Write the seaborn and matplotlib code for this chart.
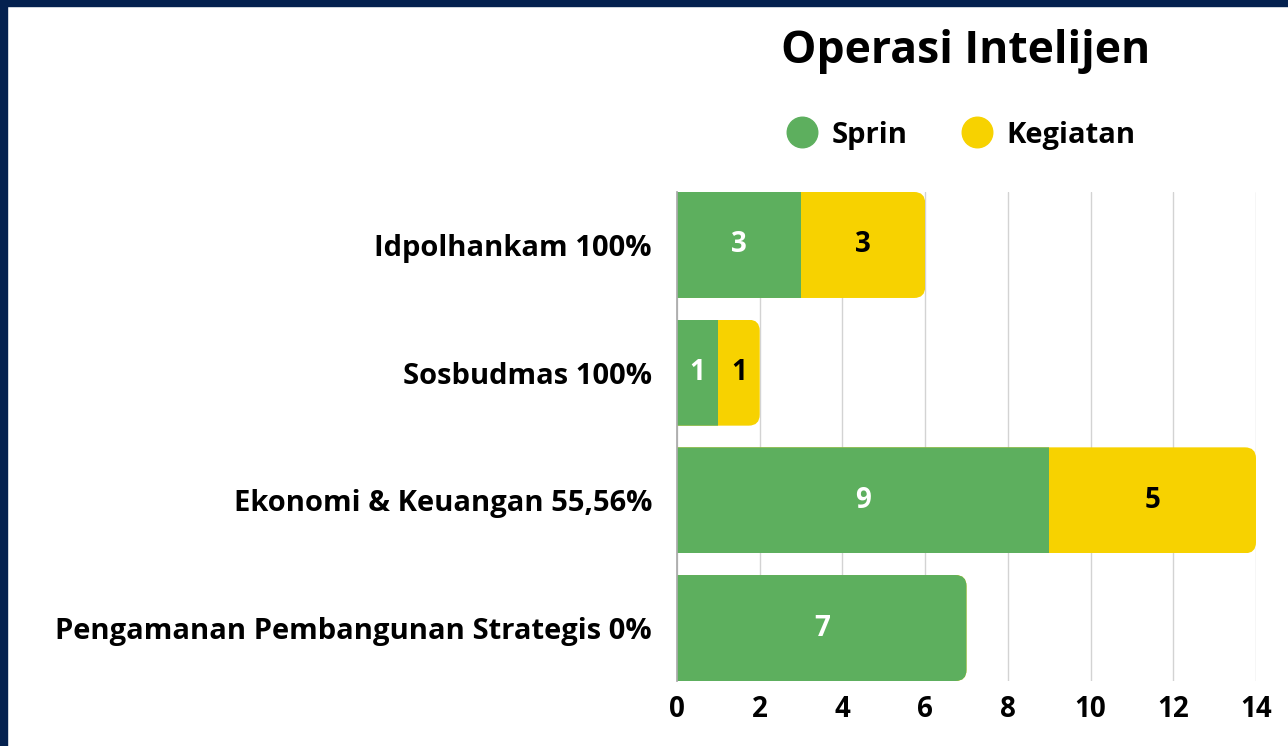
import pandas as pd
import matplotlib.pyplot as plt
import seaborn as sns
from matplotlib.patches import FancyBboxPatch, Rectangle
from matplotlib.lines import Line2D

# Datos
kategori = ['Idpolhankam 100%', 'Sosbudmas 100%', 'Ekonomi & Keuangan 55,56%',
            'Pengamanan Pembangunan Strategis 0%']
sprin = [3, 1, 9, 7]
kegiatan = [3, 1, 5, 0]

df = pd.DataFrame({'Kategori': kategori, 'Sprin': sprin, 'Kegiatan': kegiatan})
df['Total'] = df['Sprin'] + df['Kegiatan']

hijau = '#5DAF5E'
kuning = '#F7D200'

sns.set_theme(style='white')
plt.rcParams['font.family'] = ['Open Sans', 'DejaVu Sans']
plt.rcParams['font.weight'] = 'bold'
plt.rcParams['text.color'] = 'black'

fig = plt.figure(figsize=(12.88, 7.46), dpi=100)
ax = fig.add_axes([677 / 1288, 65 / 746, 579 / 1288, 489 / 746])

# barra apilada: total (amarillo) y sprin (verde) encima
sns.barplot(data=df, y='Kategori', x='Total', color=kuning, orient='h',
            width=0.83, ax=ax, saturation=1, linewidth=0)
sns.barplot(data=df, y='Kategori', x='Sprin', color=hijau, orient='h',
            width=0.83, ax=ax, saturation=1, linewidth=0)

ax.set_xlim(0, 14)
ax.set_ylim(3.415, -0.415)
ax.set_xticks(range(0, 15, 2))
ax.set_xlabel('')
ax.set_ylabel('')
ax.grid(axis='x', color='#D3D3D3', linewidth=1)
ax.set_axisbelow(True)
for s in ['top', 'right', 'bottom']:
    ax.spines[s].set_visible(False)
ax.spines['left'].set_color('#AAAAAA')
ax.tick_params(axis='both', length=0, colors='black')
ax.tick_params(axis='y', pad=18, labelsize=21)
ax.tick_params(axis='x', pad=10, labelsize=20)
for t in ax.get_xticklabels() + ax.get_yticklabels():
    t.set_fontweight('bold')

# esquinas redondeadas a la derecha
fig.canvas.draw()
bb = ax.get_window_extent()
px_x = bb.width / 14
px_y = bb.height / 3.83
rx = 11 / px_x
ry = 11 / px_y
for i, tot in enumerate(df['Total']):
    clip = FancyBboxPatch((-1, i - 0.415), tot + 1, 0.83,
                          boxstyle=f'round,pad=0,rounding_size={rx}',
                          mutation_aspect=ry / rx, transform=ax.transData)
    for cont in ax.containers:
        cont.patches[i].set_clip_path(clip)

# etiquetas
for i, row in df.iterrows():
    ax.text(row['Sprin'] / 2, i, str(row['Sprin']), ha='center', va='center',
            color='white', fontsize=20, fontweight='bold')
    if row['Kegiatan'] > 0:
        ax.text(row['Sprin'] + row['Kegiatan'] / 2, i, str(row['Kegiatan']),
                ha='center', va='center', color='black', fontsize=20,
                fontweight='bold')

fig.text(966 / 1288, 1 - 52 / 746, 'Operasi Intelijen', ha='center', va='center',
         fontsize=32, fontweight='bold')

handles = [Line2D([], [], marker='o', linestyle='', markersize=22,
                  markerfacecolor=hijau, markeredgecolor=hijau, label='Sprin'),
           Line2D([], [], marker='o', linestyle='', markersize=22,
                  markerfacecolor=kuning, markeredgecolor=kuning, label='Kegiatan')]
fig.legend(handles=handles, loc='center', bbox_to_anchor=(960 / 1288, 1 - 135 / 746),
           ncol=2, frameon=False, handletextpad=0.4, handlelength=1.2,
           columnspacing=1.8, prop={'weight': 'bold', 'size': 21})

# marco azul marino
fig.patches.append(Rectangle((0, 0), 7 / 1288, 1, transform=fig.transFigure,
                             color='#04214F', zorder=0))
fig.patches.append(Rectangle((0, 1 - 6 / 746), 1, 6 / 746, transform=fig.transFigure,
                             color='#04214F', zorder=0))

fig.savefig('out.png', dpi=100)
